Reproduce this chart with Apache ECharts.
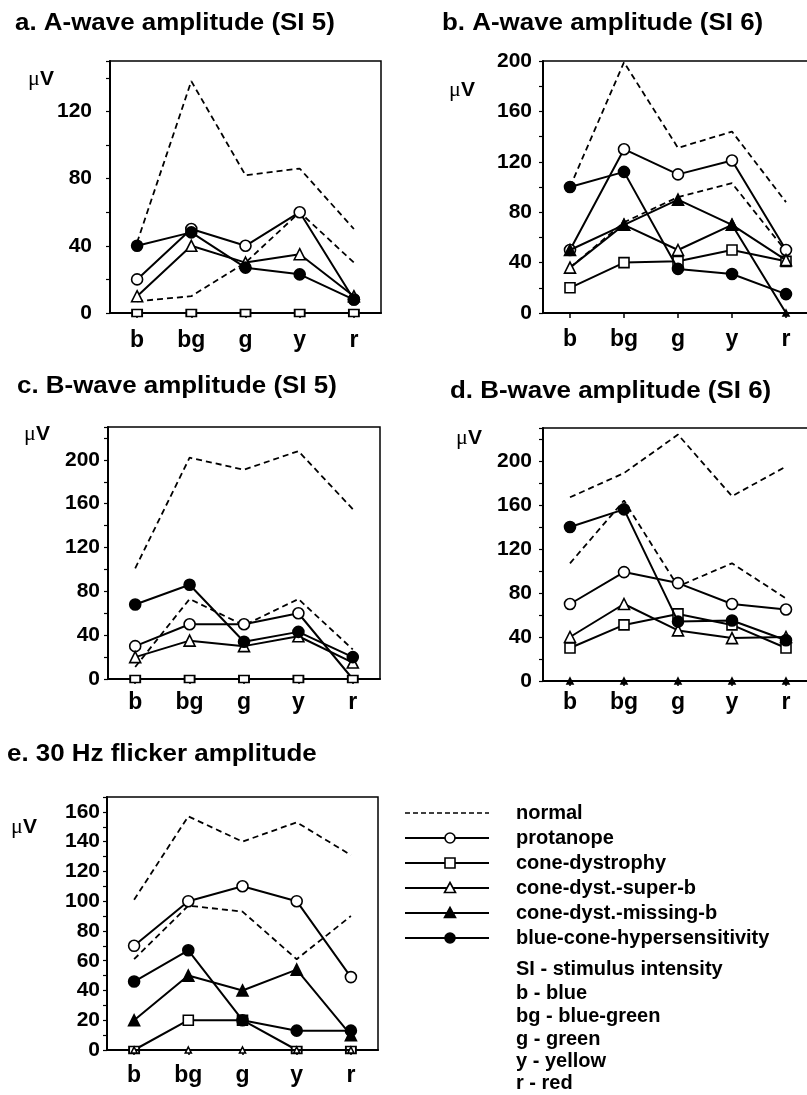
<!DOCTYPE html>
<html>
<head>
<meta charset="utf-8">
<script src="https://cdn.jsdelivr.net/npm/echarts@6/dist/echarts.min.js"></script>
<style>html,body{margin:0;padding:0;background:#fff;}#c{width:807px;height:1095px;}</style>
</head>
<body>
<div id="c"></div>
<script>
// ---- data ----
const categories = ['b', 'bg', 'g', 'y', 'r'];
const seriesNames = ['normal', 'protanope', 'cone-dystrophy', 'cone-dyst.-super-b', 'cone-dyst.-missing-b', 'blue-cone-hypersensitivity'];
const panelTitles = ['a. A-wave amplitude (SI 5)', 'b. A-wave amplitude (SI 6)', 'c. B-wave amplitude (SI 5)', 'd. B-wave amplitude (SI 6)', 'e. 30 Hz flicker amplitude'];
const legendNotes = ['SI - stimulus intensity', 'b - blue', 'bg - blue-green', 'g - green', 'y - yellow', 'r - red'];
const yMax = [150, 200, 230, 230, 170];
const yTickStep = [20, 20, 20, 20, 10];
const yLabelStep = [40, 40, 40, 40, 20];

// panel a: A-wave SI 5
const aNormalHigh = [42, 138, 82, 86, 50];
const aNormalLow = [7, 10, 30, 60, 30];
const aProtanope = [20, 50, 40, 60, 8];
const aConeDystrophy = [0, 0, 0, 0, 0];
const aSuperB = [10, 40, 30, 35, 10];
const aMissingB = [];
const aBlueCone = [40, 48, 27, 23, 8];
// panel b: A-wave SI 6
const bNormalHigh = [100, 199, 131, 144, 88];
const bNormalLow = [36, 72, 92, 103, 49];
const bProtanope = [50, 130, 110, 121, 50];
const bConeDystrophy = [20, 40, 41, 50, 41];
const bSuperB = [36, 70, 50, 70, 42];
const bMissingB = [50, 70, 90, 70, 0];
const bBlueCone = [100, 112, 35, 31, 15];
// panel c: B-wave SI 5
const cNormalHigh = [101, 202, 191, 208, 155];
const cNormalLow = [11, 73, 49, 73, 27];
const cProtanope = [30, 50, 50, 60, 0];
const cConeDystrophy = [0, 0, 0, 0, 0];
const cSuperB = [20, 35, 30, 39, 15];
const cMissingB = [];
const cBlueCone = [68, 86, 34, 43, 20];
// panel d: B-wave SI 6
const dNormalHigh = [167, 189, 224, 168, 195];
const dNormalLow = [107, 164, 86, 107, 75];
const dProtanope = [70, 99, 89, 70, 65];
const dConeDystrophy = [30, 51, 61, 51, 30];
const dSuperB = [40, 70, 46, 39, 40];
const dMissingB = [0, 0, 0, 0, 0];
const dBlueCone = [140, 156, 54, 55, 37];
// panel e: 30 Hz flicker
const eNormalHigh = [101, 157, 140, 153, 131];
const eNormalLow = [61, 97, 93, 61, 90];
const eProtanope = [70, 100, 110, 100, 49];
const eConeDystrophy = [0, 20, 20, 0, 0];
const eSuperB = [0, 0, 0, 0, 0];
const eMissingB = [20, 50, 40, 54, 10];
const eBlueCone = [46, 67, 20, 13, 13];

const panels = [
  [aNormalHigh, aNormalLow, aProtanope, aConeDystrophy, aSuperB, aMissingB, aBlueCone],
  [bNormalHigh, bNormalLow, bProtanope, bConeDystrophy, bSuperB, bMissingB, bBlueCone],
  [cNormalHigh, cNormalLow, cProtanope, cConeDystrophy, cSuperB, cMissingB, cBlueCone],
  [dNormalHigh, dNormalLow, dProtanope, dConeDystrophy, dSuperB, dMissingB, dBlueCone],
  [eNormalHigh, eNormalLow, eProtanope, eConeDystrophy, eSuperB, eMissingB, eBlueCone]
];

// ---- layout / style ----
const FONT = '"Liberation Sans", Arial, Helvetica, sans-serif';
const grids = [
  {left: 110, top: 61, width: 271, height: 252},
  {left: 543, top: 61, width: 270, height: 252},
  {left: 108, top: 427, width: 272, height: 252},
  {left: 543, top: 428, width: 270, height: 253},
  {left: 107, top: 797, width: 271, height: 253}
];
const yLabelMargin = [18, 11, 8, 11, 7];
const xLabelMargin = [16, 15, 12, 10, 14];
const titlePos = [[15, 23], [442, 23], [17, 386], [450, 391], [7, 754]];
const uvPos = [[41, 79], [462, 90], [37, 434], [469, 438], [24, 827]];

// series styles: [name index, symbol, fill, dashed]
const styleDefs = [
  [0, 'none', null, true],
  [0, 'none', null, true],
  [1, 'circle', '#fff', false],
  [2, 'rect', '#fff', false],
  [3, 'triangle', '#fff', false],
  [4, 'triangle', '#000', false],
  [5, 'circle', '#000', false]
];
const symSize = {circle: 11, rect: 10, triangle: 11, none: 0};
const zeroSize = {circle: 6, rect: [10, 7], triangle: 6, none: 0};

const grid = [], xAxis = [], yAxis = [], series = [], graphic = [];
panels.forEach((p, i) => {
  grid.push(Object.assign({show: true, borderColor: '#000', borderWidth: 1.5, outerBoundsMode: 'none', containLabel: false}, grids[i]));
  xAxis.push({
    type: 'category', gridIndex: i, data: categories, boundaryGap: true,
    axisLine: {show: true, lineStyle: {color: '#000', width: 2}},
    axisTick: {show: true, alignWithLabel: true, length: 5, lineStyle: {color: '#000', width: 1.5}},
    axisLabel: {color: '#000', fontSize: 23, fontWeight: 'bold', fontFamily: FONT, margin: xLabelMargin[i], interval: 0},
    splitLine: {show: false}
  });
  const step = yLabelStep[i];
  yAxis.push({
    type: 'value', gridIndex: i, min: 0, max: yMax[i], interval: yTickStep[i],
    axisLine: {show: true, lineStyle: {color: '#000', width: 2}},
    axisTick: {show: true, length: 4, lineStyle: {color: '#000', width: 1.2}},
    axisLabel: {color: '#000', fontSize: 21, fontWeight: 'bold', fontFamily: FONT, margin: yLabelMargin[i],
      formatter: v => (v % step === 0) ? String(v) : '', showMaxLabel: true},
    splitLine: {show: false}
  });
  p.forEach((arr, k) => {
    if (!arr.length) return;
    const [ni, sym, fill, dashed] = styleDefs[k];
    series.push({
      type: 'line', name: seriesNames[ni], xAxisIndex: i, yAxisIndex: i, data: arr,
      symbol: sym, symbolSize: v => (v === 0 ? zeroSize[sym] : symSize[sym]),
      showSymbol: sym !== 'none', clip: false,
      lineStyle: {color: '#000', width: dashed ? 1.8 : 2, type: dashed ? [6, 4] : 'solid'},
      itemStyle: {color: fill || '#000', borderColor: '#000', borderWidth: 1.6},
      z: dashed ? 2 : 3 + k,
      emphasis: {disabled: true}, silent: true
    });
  });
  graphic.push({
    type: 'text', x: titlePos[i][0], y: titlePos[i][1], scaleX: 1.08,
    style: {text: panelTitles[i], font: 'bold 24px ' + FONT, fill: '#000', textAlign: 'left', textVerticalAlign: 'middle'}
  });
  graphic.push({
    type: 'text', x: uvPos[i][0], y: uvPos[i][1],
    style: {text: '{m|\u03bc}{v|V}', textAlign: 'center', textVerticalAlign: 'middle', fill: '#000',
      rich: {m: {font: '22px "Liberation Serif", serif', fill: '#000'}, v: {font: 'bold 21px ' + FONT, fill: '#000'}}}
  });
});

// legend drawn with graphic elements
const legRows = [813, 838, 863, 888, 913, 938];
const legSym = [null, 'circle', 'rect', 'triangle', 'triangle', 'circle'];
const legFill = [null, '#fff', '#fff', '#fff', '#000', '#000'];
const lx0 = 405, lx1 = 489, lmx = 450, ltx = 516;
legRows.forEach((y, r) => {
  graphic.push({type: 'line', shape: {x1: lx0, y1: y, x2: lx1, y2: y},
    style: {stroke: '#000', lineWidth: r === 0 ? 1.6 : 1.8, lineDash: r === 0 ? [5, 3] : null}});
  const s = legSym[r];
  if (s === 'circle') graphic.push({type: 'circle', shape: {cx: lmx, cy: y, r: 5}, style: {fill: legFill[r], stroke: '#000', lineWidth: 1.6}, z: 10});
  if (s === 'rect') graphic.push({type: 'rect', shape: {x: lmx - 5, y: y - 5, width: 10, height: 10}, style: {fill: legFill[r], stroke: '#000', lineWidth: 1.6}, z: 10});
  if (s === 'triangle') graphic.push({type: 'polygon', shape: {points: [[lmx, y - 5.5], [lmx + 5.5, y + 4.5], [lmx - 5.5, y + 4.5]]}, style: {fill: legFill[r], stroke: '#000', lineWidth: 1.6}, z: 10});
  graphic.push({type: 'text', x: ltx, y: y, style: {text: seriesNames[r], font: 'bold 20px ' + FONT, fill: '#000', textAlign: 'left', textVerticalAlign: 'middle'}});
});
const noteRows = [969, 993, 1016, 1039, 1061, 1083];
legendNotes.forEach((t, r) => {
  graphic.push({type: 'text', x: ltx, y: noteRows[r], style: {text: t, font: 'bold 20px ' + FONT, fill: '#000', textAlign: 'left', textVerticalAlign: 'middle'}});
});

const chart = echarts.init(document.getElementById('c'), null, {renderer: 'canvas'});
chart.setOption({
  animation: false,
  backgroundColor: '#fff',
  grid, xAxis, yAxis, series, graphic,
  tooltip: {show: false}
});
</script>
</body>
</html>
